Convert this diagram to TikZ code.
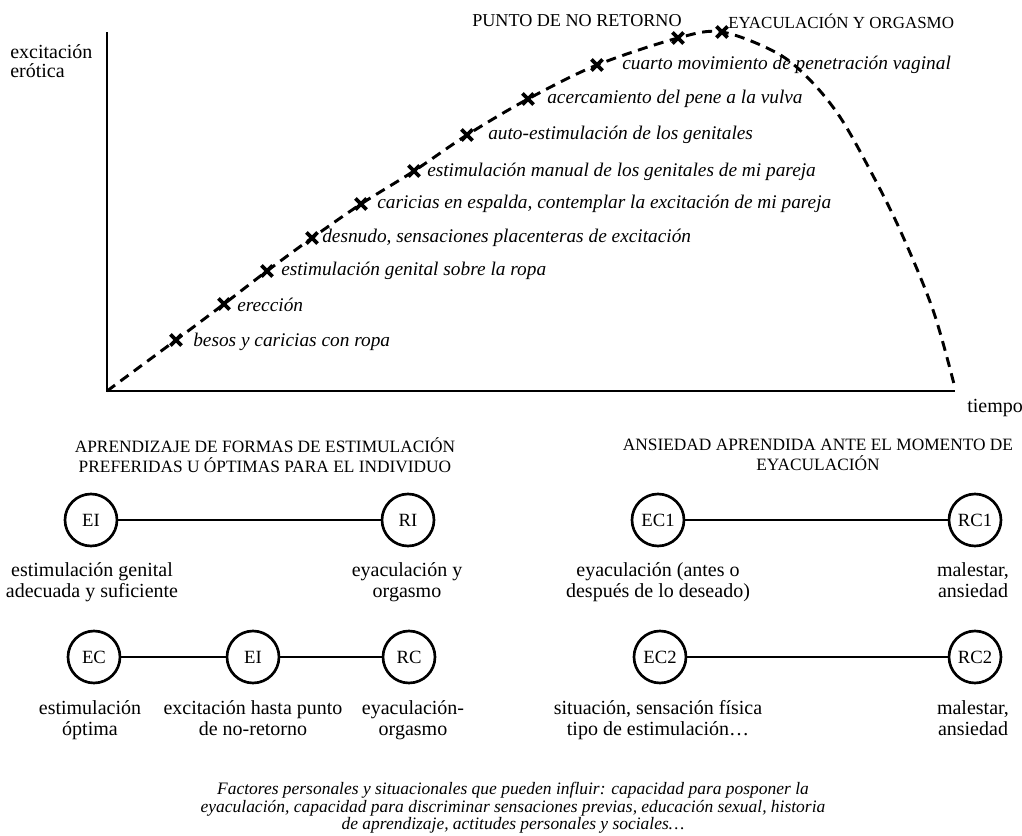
\documentclass[tikz,border=0pt]{standalone}
\usepackage{fontspec}
\setmainfont{Liberation Serif}
\usetikzlibrary{shapes.misc}
\begin{document}
\begin{tikzpicture}[x=0.75pt,y=-0.75pt,
 ax/.style={line width=1.6pt},
 curve/.style={line width=2.2pt, dash pattern=on 7.5pt off 5pt},
 xmark/.style={cross out, draw, line width=2.8pt, minimum size=5.5pt, inner sep=0pt},
 lab/.style={font=\fontsize{14.5}{16}\selectfont\itshape, anchor=west, inner sep=0pt},
 ttl/.style={font=\fontsize{13}{15}\selectfont, align=center, inner sep=0pt},
 txt/.style={font=\fontsize{15}{15.75}\selectfont, align=center, inner sep=0pt, anchor=north},
 circ/.style={circle, draw, line width=2pt, minimum size=39pt, inner sep=0pt, font=\fontsize{14}{14}\selectfont},
 link/.style={line width=1.9pt}]
\useasboundingbox (0,0) rectangle (1022,836);
% axes
\coordinate (O) at (107,391);
\coordinate (Ytop) at (107,32);
\coordinate (Xend) at (955,391);
\draw[ax] (Ytop) -- (O) -- (Xend);
\node[font=\fontsize{15}{14.5}\selectfont, align=left, anchor=north west, inner sep=0pt] (ylab) at (10,44) {excitación\\erótica};
\node[font=\fontsize{15}{15}\selectfont, anchor=west, inner sep=0pt] (xlab) at (967,408) {tiempo};
% markers
\node[xmark] (m1) at (176,340) {};
\node[xmark] (m2) at (224,304) {};
\node[xmark] (m3) at (267,271) {};
\node[xmark] (m4) at (312,238) {};
\node[xmark] (m5) at (361,204) {};
\node[xmark] (m6) at (414,171) {};
\node[xmark] (m7) at (467,135) {};
\node[xmark] (m8) at (528,99) {};
\node[xmark] (m9) at (597,65) {};
\node[xmark] (m10) at (678,38) {};
\node[xmark] (m11) at (722,32) {};
\coordinate (d1) at (777,53);
\coordinate (d2) at (810,80);
\coordinate (d3) at (840,117);
\coordinate (d4) at (870,170);
\coordinate (d5) at (900,230);
\coordinate (d6) at (933,310);
\coordinate (d7) at (955,388);
\draw[curve] plot[smooth, tension=0.55] coordinates {(O) (m1.center) (m2.center) (m3.center) (m4.center) (m5.center) (m6.center) (m7.center) (m8.center) (m9.center) (m10.center) (m11.center) (d1) (d2) (d3) (d4) (d5) (d6) (d7)};
% labels
\node[lab] (l1) at (193,342) {besos y caricias con ropa};
\node[lab] (l2) at (237,305) {erección};
\node[lab] (l3) at (281,271) {estimulación genital sobre la ropa};
\node[lab] (l4) at (322,238) {desnudo, sensaciones placenteras de excitación};
\node[lab] (l5) at (377,204) {caricias en espalda, contemplar la excitación de mi pareja};
\node[lab] (l6) at (427,172) {estimulación manual de los genitales de mi pareja};
\node[lab] (l7) at (488,135) {auto-estimulación de los genitales};
\node[lab] (l8) at (547,99) {acercamiento del pene a la vulva};
\node[lab] (l9) at (622,65) {cuarto movimiento de penetración vaginal};
\node[ttl, anchor=west, font=\fontsize{13.6}{15}\selectfont] (t1) at (472,21) {PUNTO DE NO RETORNO};
\node[ttl, anchor=west, font=\fontsize{12.7}{15}\selectfont] (t2) at (728,21) {EYACULACIÓN Y ORGASMO};
% lower left
\node[ttl] (h1) at (265,455) {APRENDIZAJE DE FORMAS DE ESTIMULACIÓN\\PREFERIDAS U ÓPTIMAS PARA EL INDIVIDUO};
\node[circ] (EI1) at (91,520) {EI};
\node[circ] (RI) at (408,520) {RI};
\draw[link] (EI1) -- (RI);
\node[txt] at (92,562) {\strut estimulación genital\\adecuada y suficiente};
\node[txt] at (407,562) {\strut eyaculación y\\orgasmo};
\node[circ] (EC) at (94,657) {EC};
\node[circ] (EI2) at (253,657) {EI};
\node[circ] (RC) at (409,657) {RC};
\draw[link] (EC) -- (EI2);
\draw[link] (EI2) -- (RC);
\node[txt] at (90,700) {\strut estimulación\\óptima};
\node[txt] at (253,700) {\strut excitación hasta punto\\de no-retorno};
\node[txt] at (413,700) {\strut eyaculación-\\orgasmo};
% lower right
\node[ttl] (h2) at (818,455) {ANSIEDAD APRENDIDA ANTE EL MOMENTO DE\\EYACULACIÓN};
\node[circ] (EC1) at (658,520) {EC1};
\node[circ] (RC1) at (975,520) {RC1};
\draw[link] (EC1) -- (RC1);
\node[txt] at (658,562) {\strut eyaculación (antes o\\después de lo deseado)};
\node[txt] at (973,562) {\strut malestar,\\ansiedad};
\node[circ] (EC2) at (660,657) {EC2};
\node[circ] (RC2) at (975,657) {RC2};
\draw[link] (EC2) -- (RC2);
\node[txt] at (658,700) {\strut situación, sensación física\\tipo de estimulación…};
\node[txt] at (973,700) {\strut malestar,\\ansiedad};
% footer
\node[font=\fontsize{13.1}{13.2}\selectfont\itshape, align=center, inner sep=0pt] (foot) at (513,808) {Factores personales y situacionales que pueden influir: capacidad para posponer la\\eyaculación, capacidad para discriminar sensaciones previas, educación sexual, historia\\de aprendizaje, actitudes personales y sociales…};
\end{tikzpicture}
\end{document}
